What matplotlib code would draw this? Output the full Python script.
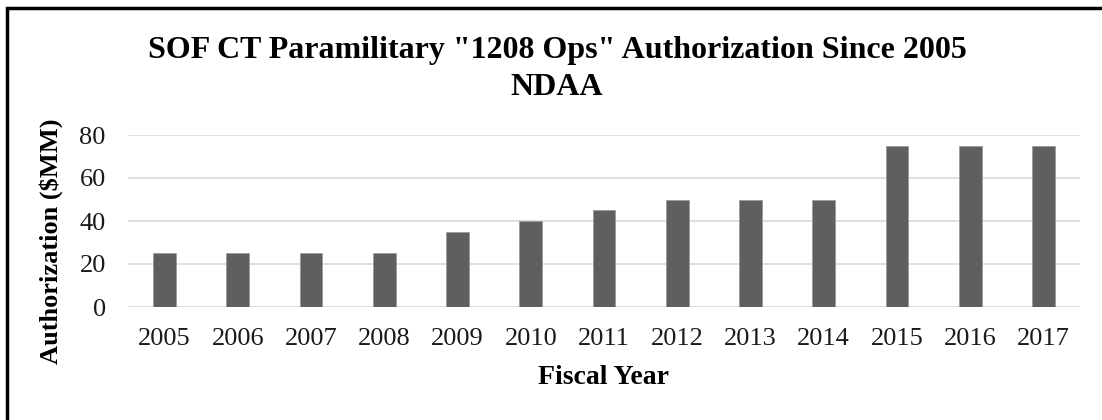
import matplotlib
matplotlib.use("Agg")
import matplotlib.pyplot as plt
from matplotlib.patches import Rectangle

years = ["2005", "2006", "2007", "2008", "2009", "2010", "2011",
         "2012", "2013", "2014", "2015", "2016", "2017"]
authorization = [25, 25, 25, 25, 35, 40, 45, 50, 50, 50, 75, 75, 75]
y_ticks = [0, 20, 40, 60, 80]

plt.rcParams["font.family"] = ["Liberation Serif", "DejaVu Serif"]

W, H = 1102, 420
fig = plt.figure(figsize=(W / 100, H / 100), dpi=100)
# plot area in pixels: x 128..1080, y(0)=307, y(80)=135
ax = fig.add_axes([128 / W, 1 - 307 / H, (1080 - 128) / W, (307 - 135) / H])

x = range(len(years))
ax.bar(x, authorization, width=0.31, color="#5f5f5f",
       edgecolor="#9a9a9a", linewidth=0.6, zorder=3)

ax.set_xlim(-0.5, len(years) - 0.5)
ax.set_ylim(0, 80)
ax.set_yticks(y_ticks)
ax.set_xticks(list(x))
ax.set_xticklabels(years)
ax.tick_params(axis="both", length=0, labelsize=19, colors="#1a1a1a")
ax.tick_params(axis="x", pad=15)
ax.tick_params(axis="y", pad=16)
ax.grid(axis="y", color="#d9d9d9", linewidth=1.2, zorder=0)
for s in ax.spines.values():
    s.set_visible(False)

fig.text(51 / W, 1 - 241 / H, "Authorization ($MM)", fontsize=19,
         fontweight="bold", rotation=90, ha="center", va="center")
fig.text(603 / W, 1 - 378 / H, "Fiscal Year", fontsize=20, fontweight="bold",
         ha="center", va="center")

fig.text(557 / W, 1 - 58 / H, 'SOF CT Paramilitary "1208 Ops" Authorization Since 2005',
         fontsize=23, fontweight="bold", ha="center", va="baseline")
fig.text(557 / W, 1 - 95 / H, "NDAA", fontsize=23, fontweight="bold",
         ha="center", va="baseline")

# outer frame (only top and left edges fall inside the image)
fig.patches.append(Rectangle((7 / W, -0.1), 1.2, 1 - 8 / H + 0.1,
                             transform=fig.transFigure, fill=False,
                             edgecolor="black", linewidth=2.5))

fig.savefig("out.png", dpi=100)
